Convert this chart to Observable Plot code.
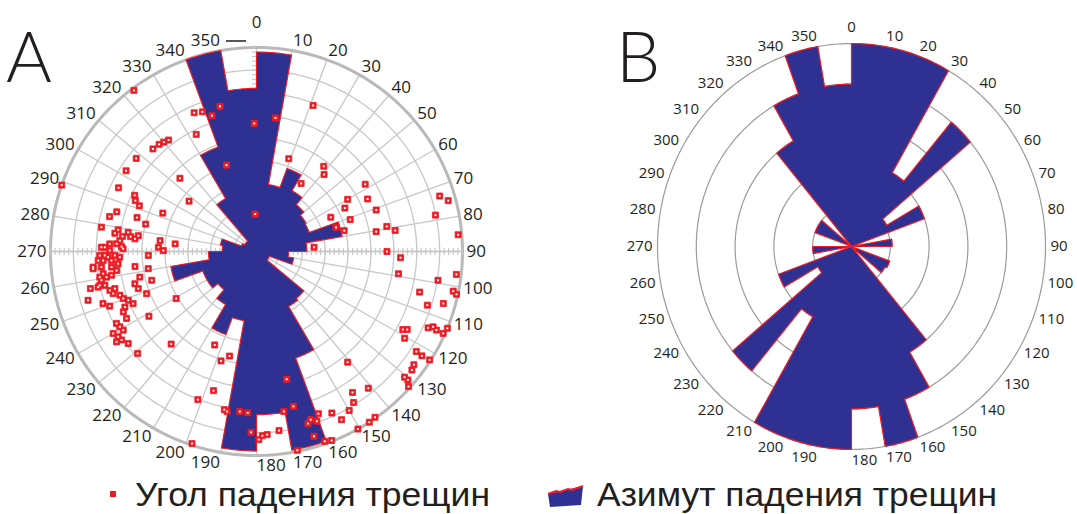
<!DOCTYPE html>
<html>
<head>
<meta charset="utf-8">
<script src="https://cdn.jsdelivr.net/npm/d3@7"></script>
<script src="https://cdn.jsdelivr.net/npm/@observablehq/plot@0.6"></script>
<style>
  html, body { margin: 0; padding: 0; background: #fff; }
  body { width: 1077px; height: 514px; position: relative; overflow: hidden; }
  #panelA, #panelB { position: absolute; top: 0; }
  #panelA { left: 0; }
  #panelB { left: 540px; }
  #overlay { position: absolute; left: 0; top: 0; pointer-events: none; }
  svg { overflow: visible; }
</style>
</head>
<body>
<div id="panelA"></div>
<div id="panelB"></div>
<svg id="overlay" width="1077" height="514">
  <text x="6" y="82" font-family="Lato, 'Liberation Sans', sans-serif" font-weight="300" font-size="70" fill="#231f20">A</text>
  <text x="616" y="82" font-family="Lato, 'Liberation Sans', sans-serif" font-weight="300" font-size="70" fill="#231f20">B</text>
  <line x1="226" y1="41" x2="246" y2="41" stroke="#231f20" stroke-width="1.5"></line>
  <rect x="110" y="491" width="6" height="6" fill="#ed1c24"></rect>
  <text x="135" y="506" font-family="'Liberation Sans Narrow', 'Arial Narrow', 'Liberation Sans', sans-serif" font-size="34" fill="#231f20" textLength="355" lengthAdjust="spacingAndGlyphs">Угол падения трещин</text>
  <polygon points="548,494 583,486 581,505 550,507" fill="#2e3192"></polygon>
  <polyline points="548,494 556,491 560,492 568,489 572,490 583,486" fill="none" stroke="#ed1c24" stroke-width="2"></polyline>
  <text x="597" y="506" font-family="'Liberation Sans Narrow', 'Arial Narrow', 'Liberation Sans', sans-serif" font-size="34" fill="#231f20" textLength="400" lengthAdjust="spacingAndGlyphs">Азимут падения трещин</text>
</svg>
<script>
// ---------- DATA ----------
// 10-degree azimuth bins (bin start, degrees clockwise from north)
const bins = d3.range(0, 360, 10);
const angleLabels = bins.map(String);

// Panel A rose: dip-azimuth frequency per bin (grid rings 0..9)
const roseA = [8.8, 3.0, 3.9, 3.1, 2.7, 2.5, 2.45, 3.8, 2.2, 1.4, 1.65, 0.6,
               0.6, 2.7, 2.8, 5.0, 8.9, 7.2, 8.8, 3.1, 3.9, 2.7, 2.2, 2.5,
               2.5, 3.8, 2.1, 1.5, 1.6, 0.7, 0.6, 0.6, 2.7, 4.9, 9.0, 7.2];
const roseAMax = 9;

// Panel B rose: dip-azimuth frequency per bin (grid rings 0..5)
const roseB = [5, 5, 5, 2.1, 4.0, 1.05, 2.0, 0, 1.05, 0, 0, 1.05,
               1.0, 0, 3.0, 4.0, 5.0, 4.0, 5, 5, 5, 2.0, 4.0, 1.0,
               2.0, 0, 1.0, 0, 0, 1.0, 1.0, 0, 3.0, 4.0, 5.0, 4.0];
const roseBMax = 5;

// Panel A points: dip azimuth (deg) and dip angle (deg, 0 at centre, 90 at rim)
const dipAzimuth = [323,21,346,336,339,342,359,8,333,315,318,320,322,308,302,314,341,19,38,41,
  33,295,307,295,293,291.5,286,283.5,286,284,292.5,279,358,58,60,64.5,63.6,71,70.7,65,
  73,76.5,80.5,79,81.3,73,75,78.4,85.2,289,85.7,90,92.5,99,96.6,99.1,104.1,101.5,102.2,107.6,
  105.7,118.3,117.6,114.2,113.3,113.8,113.9,112.1,120.6,122.3,122.5,122.3,126,127.6,130.6,130.6,131.9,140.8,141,146,
  147.5,150,155.2,153.4,159.3,160.6,162.3,163.5,162.9,160.4,158.5,150.5,146.8,144.7,168.5,166.7,166.8,170.4,172.9,176.7,
  178.2,179.3,181.7,183.1,185.9,190.3,191.4,197,201.4,198.4,197.8,194.3,203.9,222.4,229.1,239.4,238.7,254.5,248.8,
  279,277.4,278.6,276.5,276.8,277.7,276,274.6,273.2,273,271.6,271.6,270.4,272.1,271.2,268.5,268.5,267.8,268.4,267.6,
  266.6,266.4,266.7,264.5,264.2,263.8,264.9,262.2,261.7,260.6,260.2,260.6,259.4,257.2,257.3,255,255.2,253.5,252.1,257.3,
  253.7,251.1,249.4,250.4,249,246.9,246.9,245.4,242.5,242.6,240.9,239.2,240,238.1,236.5,234.1,236.9,267.9,260.9,257.5,
  255,252.4,276.5,272.5,270.6,275.4,262.9,263.9,257.7];
const dipAngle = [89,69,66,67,66,63,56.5,59.5,58,64,63.6,63,62.4,66.7,67.2,46.5,40.3,43.3,47.7,45,
  35.8,66.5,36.9,58.7,57.5,55,63.5,66,54.3,49.9,44.3,68.6,16.5,56,46,53.8,43.1,43.3,55.4,35.8,
  36.3,39.4,53,58,61.3,83.7,86.7,79.8,88.4,90,25.2,57,63,62.8,87.9,80.3,73.5,87.7,89.4,78.3,
  84.8,72.6,74.3,82.2,84,85.9,89.2,90,75.2,82.6,85.7,89.5,85,85.7,85.2,87.1,89.2,63,77.6,75,
  79,81,78.5,83,76.5,79.4,77.9,79.2,85.3,88.9,89.6,90,90,89.6,89.5,70.2,57.9,71.6,79.6,80.9,
  81.3,83,79.8,71.3,71,71.8,71.2,64.2,70.2,89.3,50.7,47.6,45.1,55.3,68.7,40.8,55,47.5,51.5,
  61.2,62.4,56.7,58.9,55.4,52.1,53.4,59.9,61.2,64.2,66.3,67.8,64.1,59,58.3,66.3,68.5,64.9,61.9,59.8,
  67.1,63.5,69.3,71.7,68.1,63.7,60.7,61.7,67.7,69.4,66.5,64.2,68.9,71,67.9,66.3,64,65.3,62.7,74.4,
  76.7,70.9,68.5,61.8,60,58.6,62.5,64,64,68.9,68.3,67.8,72.3,71.2,70.7,69.2,73,47.3,47.9,52.2,
  55,54.2,42.4,42.9,40.7,35.7,53.5,71.8,70.1];
const dipMax = 90;

// ---------- HELPERS ----------
const DEG = Math.PI / 180;
const px = (a, r) => r * Math.sin(a * DEG);
const py = (a, r) => r * Math.cos(a * DEG);

function roseOutline(values, max) {
  const pts = [];
  bins.forEach((b, i) => {
    for (let a = b; a <= b + 10; a += 1) pts.push({x: px(a, values[i] / max), y: py(a, values[i] / max)});
  });
  return pts;
}

function ringPoints(n) {
  return d3.range(1, n + 1).flatMap(k =>
    d3.range(0, 360, 1).map(a => ({k, outer: k === n, x: px(a, k / n), y: py(a, k / n)})));
}

function labelData(rx, ry, gap, h, topExtra) {
  return bins.map((a, i) => {
    const s = Math.sin(a * DEG), c = Math.cos(a * DEG);
    const X = (rx + gap) * s;
    const Y = (ry + gap) * c + (h / 2) * c + (a === 0 ? topExtra : 0);
    const anchor = a === 0 ? "middle" : a <= 180 ? "start" : "end";
    return {x: X / rx, y: Y / ry, text: angleLabels[i], anchor};
  });
}

function labelMarks(data, fontSize) {
  return ["start", "middle", "end"].map(anchor =>
    Plot.text(data.filter(d => d.anchor === anchor), {
      x: "x", y: "y", text: "text", textAnchor: anchor, lineAnchor: "middle",
      fontSize, fontFamily: "'Open Sans', 'DejaVu Sans', sans-serif", fill: "#231f20"
    }));
}

const NAVY = "#2e3192";
const RED = "#ed1c24";

// ---------- PANEL A ----------
{
  const cx = 256, cy = 251, rx = 206, ry = 204;
  const nRings = 9;
  const rings = ringPoints(nRings);
  const radials = bins.map(a => ({x2: px(a, 1), y2: py(a, 1)}));
  const tickStep = 2;
  const hTicks = d3.range(-dipMax, dipMax + 1, tickStep).filter(v => v !== 0).map(v => ({v: v / dipMax}));
  const vTicks = d3.range(tickStep, dipMax + 1, tickStep).flatMap(v => [{v: v / dipMax}, {v: -v / dipMax}]);
  const points = dipAzimuth.map((az, i) => ({x: px(az, dipAngle[i] / dipMax), y: py(az, dipAngle[i] / dipMax)}));

  const chart = Plot.plot({
    width: 540, height: 514, margin: 0,
    x: {domain: [-1, 1], range: [cx - rx, cx + rx], axis: null},
    y: {domain: [-1, 1], range: [cy + ry, cy - ry], axis: null},
    marks: [
      Plot.link(radials, {x1: 0, y1: 0, x2: "x2", y2: "y2", stroke: "#c8c8c8", strokeWidth: 1.3}),
      Plot.line(rings.filter(d => !d.outer), {x: "x", y: "y", z: "k", curve: "linear-closed", stroke: "#c8c8c8", strokeWidth: 1.3}),
      Plot.line(rings.filter(d => d.outer), {x: "x", y: "y", z: "k", curve: "linear-closed", stroke: "#b9b9b9", strokeWidth: 3}),
      Plot.link([{}], {x1: -1, x2: 1, y1: 0, y2: 0, stroke: "#c8c8c8", strokeWidth: 1.5}),
      Plot.link(hTicks, {x1: "v", x2: "v", y1: -3.5 / ry, y2: 3.5 / ry, stroke: "#c8c8c8", strokeWidth: 1.2}),
      Plot.link(vTicks, {x1: -4.5 / rx, x2: 0, y1: "v", y2: "v", stroke: "#c8c8c8", strokeWidth: 1.2}),
      Plot.line(roseOutline(roseA, roseAMax), {x: "x", y: "y", curve: "linear-closed", fill: NAVY, stroke: RED, strokeWidth: 1.1}),
      Plot.dot(points, {x: "x", y: "y", symbol: "square", r: 3.4, fill: RED, stroke: RED, strokeWidth: 0.8}),
      Plot.dot(points, {x: "x", y: "y", symbol: "square", r: 1.1, fill: "white"}),
      ...labelMarks(labelData(rx, ry, 4, 12, 15), 17)
    ]
  });
  document.getElementById("panelA").append(chart);
}

// ---------- PANEL B ----------
{
  const cx = 851 - 540, cy = 246, rx = 194, ry = 203;
  const nRings = 5;
  const rings = ringPoints(nRings);
  const chart = Plot.plot({
    width: 537, height: 514, margin: 0,
    x: {domain: [-1, 1], range: [cx - rx, cx + rx], axis: null},
    y: {domain: [-1, 1], range: [cy + ry, cy - ry], axis: null},
    marks: [
      Plot.line(rings, {x: "x", y: "y", z: "k", curve: "linear-closed", stroke: "#9a9a9a", strokeWidth: 1.2}),
      Plot.line(roseOutline(roseB, roseBMax), {x: "x", y: "y", curve: "linear-closed", fill: NAVY, stroke: RED, strokeWidth: 1.2}),
      ...labelMarks(labelData(rx, ry, 5, 11, 6), 15)
    ]
  });
  document.getElementById("panelB").append(chart);
}
</script>
</body>
</html>
